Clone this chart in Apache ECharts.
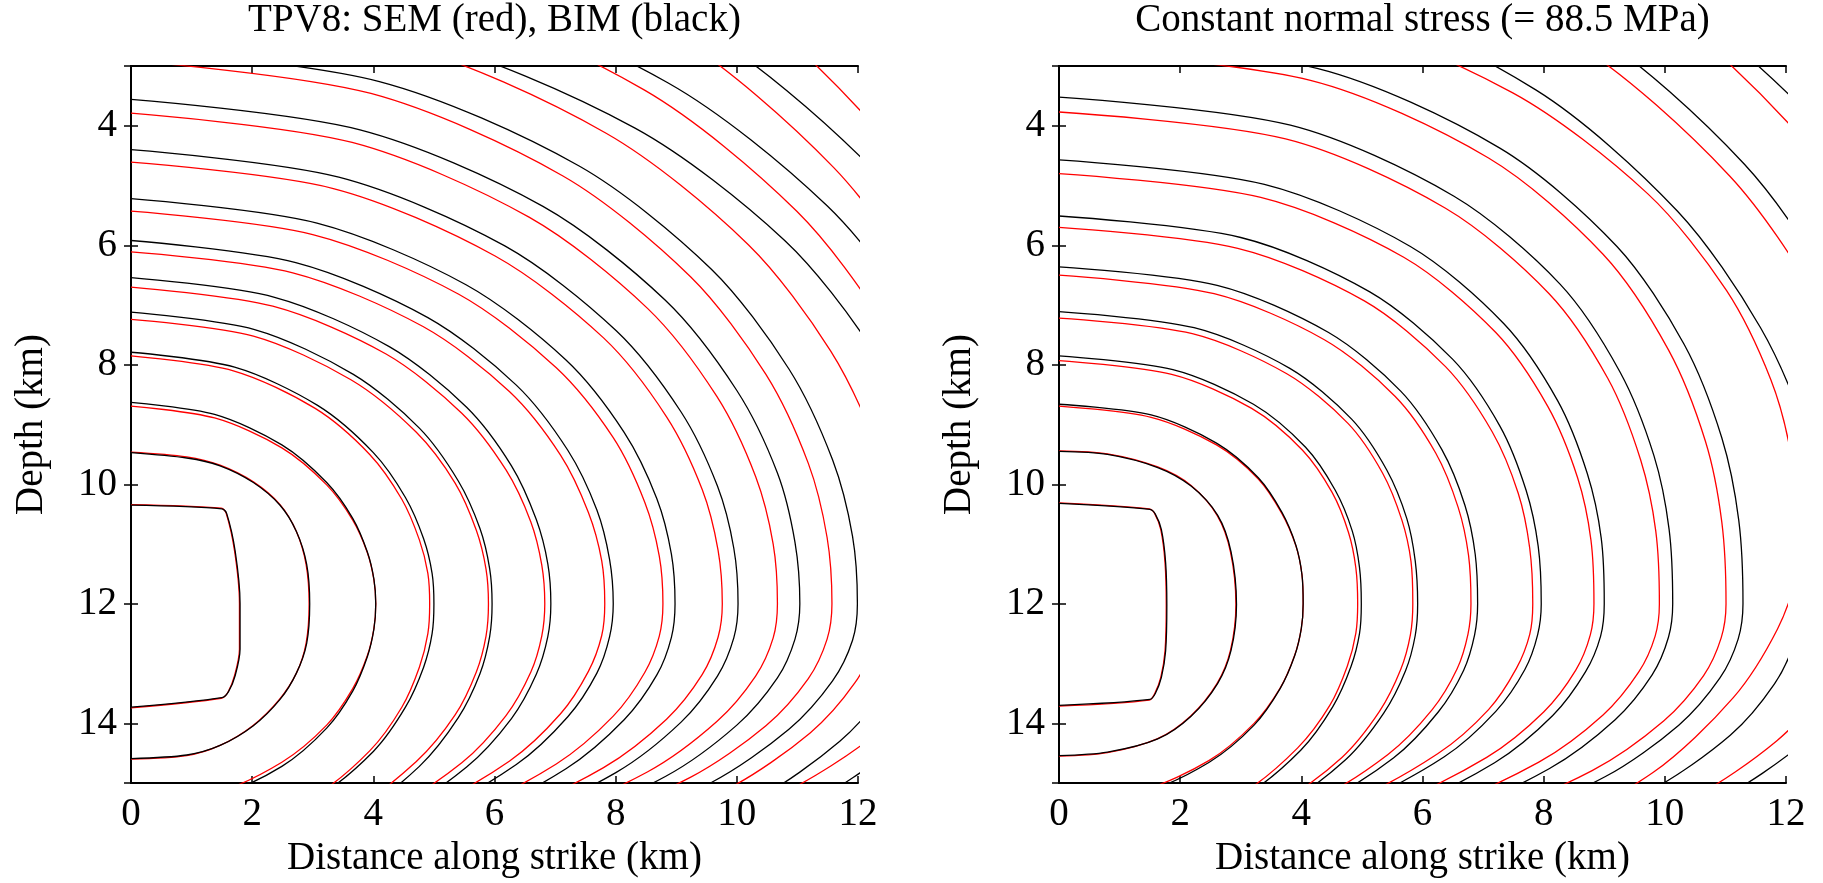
<!DOCTYPE html>
<html>
<head>
<meta charset="utf-8">
<script src="https://cdn.jsdelivr.net/npm/echarts@6/dist/echarts.min.js"></script>
<style>
html,body{margin:0;padding:0;background:#fff;}
#main{width:1823px;height:883px;}
</style>
</head>
<body>
<div id="main"></div>
<script>
// ---- Tick labels ----
const xTickLabels = [0, 2, 4, 6, 8, 10, 12];
const yTickLabels = [4, 6, 8, 10, 12, 14];
const titles = ['TPV8: SEM (red), BIM (black)', 'Constant normal stress (= 88.5 MPa)'];

// ---- Rupture-time contours, points are [distance along strike (km), depth (km)] ----
// Left panel, SEM (red)
const leftSEM = [
 [[0,10.34],[1.49,10.4],[1.57,10.48],[1.71,11.12],[1.79,11.99],[1.79,12.76],[1.71,13.2],[1.6,13.48],[1.49,13.58],[0,13.74]],
 [[0,9.46],[0.92,9.54],[1.47,9.68],[2.02,9.96],[2.46,10.34],[2.73,10.79],[2.89,11.34],[2.94,12],[2.89,12.66],[2.73,13.16],[2.45,13.6],[2.01,14.04],[1.47,14.37],[0.92,14.54],[0,14.6]],
 [[0,8.69],[1.38,8.89],[2.49,9.39],[3.23,10.01],[3.66,10.6],[3.9,11.14],[4.01,11.6],[4.04,12],[4.01,12.41],[3.9,12.87],[3.66,13.42],[3.23,14.03],[2.49,14.65],[1.38,15.17],[0,15.37]],
 [[0,7.85],[1.69,8.1],[3.04,8.73],[3.94,9.5],[4.47,10.25],[4.76,10.93],[4.9,11.49],[4.93,12],[4.9,12.5],[4.76,13.06],[4.47,13.73],[3.94,14.46],[3.04,15.21],[1.69,15.83],[0,16.08]],
 [[0,7.24],[2.02,7.52],[3.63,8.25],[4.71,9.13],[5.35,9.98],[5.7,10.77],[5.86,11.42],[5.9,12],[5.86,12.54],[5.7,13.14],[5.35,13.86],[4.71,14.64],[3.63,15.46],[2.02,16.13]],
 [[0,6.7],[2.34,7.02],[4.21,7.82],[5.46,8.81],[6.19,9.76],[6.6,10.63],[6.78,11.35],[6.83,12],[6.78,12.54],[6.6,13.14],[6.19,13.87],[5.46,14.66],[4.21,15.48],[2.34,16.15]],
 [[0,6.11],[2.67,6.46],[4.82,7.36],[6.25,8.45],[7.09,9.51],[7.55,10.47],[7.77,11.28],[7.82,12],[7.77,12.53],[7.55,13.13],[7.09,13.84],[6.25,14.63],[4.82,15.44],[2.67,16.1]],
 [[0,5.43],[3.0,5.82],[5.41,6.82],[7.02,8.05],[7.96,9.22],[8.48,10.3],[8.72,11.2],[8.78,12],[8.72,12.54],[8.48,13.15],[7.96,13.88],[7.02,14.68],[5.41,15.51],[3.0,16.18]],
 [[0,4.61],[3.34,5.05],[6.01,6.18],[7.8,7.55],[8.84,8.87],[9.43,10.09],[9.69,11.1],[9.76,12],[9.69,12.56],[9.43,13.18],[8.84,13.93],[7.8,14.74],[6.01,15.59],[3.34,16.28]],
 [[0,3.79],[3.65,4.28],[6.57,5.53],[8.53,7.06],[9.67,8.53],[10.31,9.87],[10.6,11.0],[10.67,12],[10.6,12.57],[10.31,13.21],[9.67,13.97],[8.53,14.81],[6.57,15.67],[3.65,16.38]],
 [[0,2.91],[3.96,3.46],[7.13,4.84],[9.24,6.53],[10.48,8.16],[11.18,9.65],[11.49,10.89],[11.57,12],[11.49,12.59],[11.18,13.25],[10.48,14.04],[9.24,14.9],[7.13,15.79],[3.96,16.53]],
 [[0,2.01],[4.36,2.61],[7.85,4.13],[10.19,5.99],[11.55,7.77],[12.32,9.41],[12.66,10.78],[12.75,12],[12.37,12],[12.28,12.62],[11.95,13.32],[11.21,14.16],[9.88,15.08],[7.62,16.03]],
 [[0,1.08],[4.7,1.74],[8.47,3.4],[10.99,5.43],[12.46,7.38],[13.28,9.17],[13.65,10.67],[13.75,12],[13.53,12],[13.44,12.64],[13.07,13.35],[12.26,14.21],[10.81,15.14],[8.33,16.11]],
 [[0,-0.12],[4.97,0.61],[8.94,2.45],[11.6,4.7],[13.16,6.87],[14.03,8.86]],
 [[0,-1.5],[5.2,-0.69],[9.37,1.36],[12.15,3.87],[13.78,6.29]]
];
// Left panel, BIM (black)
const leftBIM = [
 [[0,10.35],[1.5,10.41],[1.58,10.49],[1.72,11.12],[1.8,11.99],[1.8,12.76],[1.72,13.2],[1.61,13.47],[1.5,13.57],[0,13.73]],
 [[0,9.47],[0.92,9.56],[1.47,9.69],[2.02,9.97],[2.46,10.35],[2.73,10.79],[2.9,11.34],[2.95,12],[2.9,12.66],[2.73,13.16],[2.46,13.6],[2.02,14.04],[1.47,14.37],[0.92,14.53],[0,14.59]],
 [[0,8.63],[1.38,8.83],[2.49,9.34],[3.23,9.97],[3.66,10.57],[3.9,11.13],[4.01,11.59],[4.04,12],[4.01,12.42],[3.9,12.89],[3.66,13.46],[3.23,14.08],[2.49,14.72],[1.38,15.24],[0,15.45]],
 [[0,7.79],[1.71,8.04],[3.08,8.68],[4.0,9.47],[4.53,10.22],[4.83,10.91],[4.97,11.49],[5,12],[4.97,12.5],[4.83,13.06],[4.53,13.73],[4.0,14.47],[3.08,15.23],[1.71,15.85],[0,16.1]],
 [[0,7.12],[2.04,7.41],[3.67,8.16],[4.76,9.06],[5.4,9.94],[5.76,10.74],[5.92,11.41],[5.96,12],[5.92,12.55],[5.76,13.17],[5.4,13.91],[4.76,14.72],[3.67,15.56],[2.04,16.25]],
 [[0,6.54],[2.37,6.87],[4.27,7.7],[5.54,8.71],[6.28,9.69],[6.69,10.59],[6.88,11.33],[6.93,12],[6.88,12.55],[6.69,13.18],[6.28,13.92],[5.54,14.73],[4.27,15.58],[2.37,16.27]],
 [[0,5.92],[2.72,6.29],[4.9,7.21],[6.36,8.34],[7.21,9.43],[7.69,10.43],[7.9,11.26],[7.96,12],[7.9,12.55],[7.69,13.16],[7.21,13.89],[6.36,14.69],[4.9,15.52],[2.72,16.2]],
 [[0,5.22],[3.07,5.63],[5.53,6.66],[7.18,7.92],[8.14,9.13],[8.68,10.24],[8.92,11.17],[8.98,12],[8.92,12.56],[8.68,13.19],[8.14,13.94],[7.18,14.76],[5.53,15.62],[3.07,16.32]],
 [[0,4.4],[3.43,4.86],[6.17,6.01],[8.01,7.43],[9.08,8.79],[9.68,10.03],[9.95,11.07],[10.02,12],[9.95,12.57],[9.68,13.21],[9.08,13.98],[8.01,14.82],[6.17,15.69],[3.43,16.4]],
 [[0,3.56],[3.78,4.07],[6.8,5.35],[8.82,6.92],[10.0,8.43],[10.67,9.81],[10.96,10.97],[11.04,12],[10.96,12.59],[10.67,13.24],[10.0,14.03],[8.82,14.89],[6.8,15.78],[3.78,16.51]],
 [[0,2.7],[4.1,3.26],[7.39,4.67],[9.58,6.4],[10.86,8.07],[11.58,9.59],[11.91,10.87],[11.99,12],[11.91,12.61],[11.58,13.29],[10.86,14.1],[9.58,14.99],[7.39,15.92],[4.1,16.67]],
 [[0,1.9],[4.62,2.51],[8.32,4.04],[10.79,5.92],[12.23,7.73],[13.04,9.38],[13.41,10.77],[13.5,12],[12.91,12],[12.82,12.66],[12.47,13.41],[11.7,14.3],[10.32,15.27],[7.95,16.28]],
 [[0,0.93],[4.92,1.59],[8.86,3.28],[11.49,5.34],[13.03,7.32],[13.89,9.13],[14.28,10.65],[14.38,12],[13.95,12],[13.85,12.68],[13.48,13.45],[12.64,14.37],[11.15,15.37],[8.59,16.41]],
 [[0,-0.25],[5.2,0.49],[9.37,2.35],[12.15,4.63],[13.78,6.82],[14.69,8.83]]
];
// Right panel, SEM (red)
const rightSEM = [
 [[0,10.31],[1.49,10.41],[1.58,10.49],[1.68,10.76],[1.75,11.31],[1.77,12.02],[1.75,12.79],[1.68,13.23],[1.58,13.5],[1.49,13.61],[0,13.71]],
 [[0,9.44],[0.8,9.49],[1.63,9.71],[2.18,10.02],[2.61,10.52],[2.83,11.13],[2.92,12.01],[2.83,12.78],[2.61,13.33],[2.17,13.88],[1.62,14.26],[0.8,14.49],[0,14.55]],
 [[0,8.69],[1.52,8.88],[2.6,9.34],[3.29,9.91],[3.68,10.49],[3.91,11.03],[4.01,11.51],[4.03,12],[4.0,12.41],[3.89,12.86],[3.65,13.41],[3.22,14.0],[2.48,14.62],[1.38,15.12],[0,15.32]],
 [[0,7.93],[1.86,8.16],[3.18,8.73],[4.02,9.43],[4.51,10.14],[4.78,10.81],[4.9,11.4],[4.93,12],[4.9,12.49],[4.76,13.04],[4.47,13.7],[3.94,14.41],[3.04,15.16],[1.69,15.77],[0,16.01]],
 [[0,7.22],[2.2,7.48],[3.76,8.15],[4.77,8.98],[5.34,9.81],[5.66,10.6],[5.81,11.29],[5.84,12],[5.8,12.52],[5.64,13.1],[5.29,13.8],[4.67,14.57],[3.6,15.36],[2.0,16.01]],
 [[0,6.5],[2.56,6.81],[4.38,7.58],[5.55,8.53],[6.22,9.48],[6.59,10.39],[6.76,11.19],[6.8,12],[6.75,12.51],[6.57,13.09],[6.16,13.77],[5.43,14.52],[4.19,15.3],[2.33,15.94]],
 [[0,5.7],[2.95,6.05],[5.04,6.93],[6.38,8.03],[7.15,9.12],[7.58,10.15],[7.77,11.07],[7.82,12],[7.77,12.51],[7.55,13.08],[7.09,13.77],[6.25,14.51],[4.82,15.29],[2.67,15.93]],
 [[0,4.8],[3.33,5.2],[5.69,6.2],[7.21,7.46],[8.07,8.7],[8.56,9.89],[8.78,10.93],[8.83,12],[8.77,12.52],[8.53,13.11],[8.0,13.81],[7.06,14.57],[5.44,15.37],[3.02,16.02]],
 [[0,3.77],[3.74,4.22],[6.38,5.38],[8.09,6.81],[9.06,8.23],[9.6,9.59],[9.85,10.78],[9.91,12],[9.84,12.54],[9.57,13.14],[8.98,13.86],[7.92,14.65],[6.11,15.47],[3.39,16.14]],
 [[0,2.73],[4.15,3.24],[7.09,4.54],[8.98,6.15],[10.06,7.75],[10.67,9.28],[10.94,10.63],[11.01,12],[10.93,12.57],[10.64,13.2],[9.98,13.96],[8.8,14.79],[6.78,15.65],[3.77,16.36]],
 [[0,1.53],[4.16,2.07],[7.49,3.45],[9.72,5.14],[11.02,6.76],[11.75,8.25],[12.08,9.49],[12.16,10.6],[12.28,10.6],[12.19,11.46],[11.86,12.42],[11.13,13.57],[9.81,14.82],[7.56,16.12]],
 [[0,0.1],[4.74,0.81],[8.53,2.62],[11.07,4.84],[12.55,6.97],[13.38,8.92],[13.75,10.55],[13.85,12],[13.08,12],[12.99,12.66],[12.64,13.4],[11.85,14.29],[10.45,15.25],[8.06,16.26]],
 [[0,-1.29],[5.17,-0.49],[9.31,1.53],[12.08,4.0],[13.7,6.38]]
];
// Right panel, BIM (black)
const rightBIM = [
 [[0,10.32],[1.5,10.42],[1.59,10.5],[1.69,10.76],[1.76,11.31],[1.78,12.02],[1.76,12.79],[1.69,13.23],[1.59,13.5],[1.5,13.6],[0,13.7]],
 [[0,9.45],[0.8,9.5],[1.63,9.72],[2.18,10.03],[2.62,10.52],[2.84,11.13],[2.93,12.01],[2.84,12.78],[2.62,13.33],[2.18,13.88],[1.63,14.26],[0.8,14.48],[0,14.54]],
 [[0,8.66],[1.52,8.84],[2.6,9.31],[3.29,9.89],[3.68,10.47],[3.91,11.02],[4.01,11.51],[4.03,12],[4.0,12.41],[3.89,12.87],[3.65,13.42],[3.22,14.03],[2.48,14.65],[1.38,15.16],[0,15.36]],
 [[0,7.85],[1.88,8.08],[3.21,8.66],[4.07,9.38],[4.56,10.1],[4.84,10.78],[4.96,11.39],[4.99,12],[4.96,12.5],[4.82,13.05],[4.52,13.72],[3.99,14.45],[3.07,15.21],[1.71,15.82],[0,16.07]],
 [[0,7.11],[2.23,7.38],[3.81,8.06],[4.83,8.91],[5.41,9.76],[5.74,10.57],[5.88,11.28],[5.92,12],[5.88,12.53],[5.72,13.12],[5.36,13.83],[4.73,14.61],[3.65,15.41],[2.03,16.07]],
 [[0,6.36],[2.61,6.67],[4.45,7.46],[5.64,8.44],[6.32,9.42],[6.7,10.35],[6.87,11.17],[6.91,12],[6.86,12.52],[6.68,13.11],[6.26,13.81],[5.52,14.58],[4.26,15.37],[2.36,16.02]],
 [[0,5.51],[3.0,5.87],[5.13,6.78],[6.5,7.91],[7.28,9.03],[7.71,10.1],[7.91,11.04],[7.96,12],[7.9,12.52],[7.69,13.1],[7.21,13.8],[6.36,14.56],[4.9,15.34],[2.72,15.99]],
 [[0,4.57],[3.39,4.98],[5.8,6.02],[7.34,7.31],[8.23,8.6],[8.72,9.82],[8.95,10.9],[9,12],[8.94,12.54],[8.69,13.14],[8.15,13.87],[7.19,14.66],[5.54,15.48],[3.08,16.15]],
 [[0,3.52],[3.82,3.99],[6.52,5.18],[8.27,6.65],[9.26,8.12],[9.82,9.52],[10.07,10.75],[10.13,12],[10.06,12.56],[9.79,13.19],[9.18,13.94],[8.09,14.76],[6.24,15.61],[3.46,16.3]],
 [[0,2.52],[4.26,3.04],[7.27,4.37],[9.21,6.02],[10.32,7.66],[10.94,9.22],[11.22,10.6],[11.29,12],[11.21,12.59],[10.91,13.24],[10.23,14.03],[9.02,14.89],[6.96,15.79],[3.86,16.52]],
 [[0,1.08],[4.37,1.74],[7.87,3.4],[10.21,5.43],[11.58,7.38],[12.35,9.17],[12.69,10.67],[12.78,12],[12.23,12],[12.14,12.63],[11.81,13.34],[11.08,14.2],[9.77,15.12],[7.53,16.09]],
 [[0,-0.22],[4.84,0.51],[8.72,2.37],[11.31,4.64],[12.83,6.83],[13.68,8.84],[14.06,10.51],[14.16,12],[13.59,12],[13.5,12.67],[13.13,13.41],[12.31,14.31],[10.86,15.29],[8.37,16.3]],
 [[0,-1.26],[5.38,-0.46],[9.7,1.55],[12.58,4.02],[14.26,6.39]]
];

const FONT = '"Liberation Serif", "DejaVu Serif", serif';
const FS = 39;
const GRIDS = [
  {left: 131, top: 66, width: 727, height: 727},
  {left: 1059, top: 66, width: 727, height: 727}
];

const chart = echarts.init(document.getElementById('main'), null, {renderer: 'canvas'});

const lineAxis = {show: true, lineStyle: {color: '#000', width: 2}};
const tick = {show: true, inside: true, length: 7, lineStyle: {color: '#000', width: 1.5}};

const xAxes = [], yAxes = [];
GRIDS.forEach((g, gi) => {
  xAxes.push({
    type: 'value', gridIndex: gi, position: 'bottom', min: 0, max: 12, interval: 2,
    axisLine: lineAxis, axisTick: tick, splitLine: {show: false},
    axisLabel: {show: true, color: '#000', fontFamily: FONT, fontSize: FS, margin: 12,
      formatter: v => xTickLabels.includes(v) ? String(v) : ''},
    name: 'Distance along strike (km)', nameLocation: 'middle', nameGap: 51,
    nameTextStyle: {color: '#000', fontFamily: FONT, fontSize: FS}
  });
  xAxes.push({
    type: 'value', gridIndex: gi, position: 'top', min: 0, max: 12, interval: 2,
    axisLine: lineAxis, axisTick: tick, splitLine: {show: false}, axisLabel: {show: false}
  });
  yAxes.push({
    type: 'value', gridIndex: gi, position: 'left', min: 3, max: 15, splitNumber: 6, inverse: true,
    axisLine: lineAxis, axisTick: tick, splitLine: {show: false},
    axisLabel: {show: true, color: '#000', fontFamily: FONT, fontSize: FS, margin: 14,
      formatter: v => yTickLabels.includes(v) ? String(v) : ''},
    name: 'Depth (km)', nameLocation: 'middle', nameGap: 80,
    nameTextStyle: {color: '#000', fontFamily: FONT, fontSize: FS}
  });
  yAxes.push({
    type: 'value', gridIndex: gi, position: 'right', min: 3, max: 15, splitNumber: 6, inverse: true,
    axisLine: lineAxis, axisTick: tick, splitLine: {show: false}, axisLabel: {show: false}
  });
});

function contourSeries(list, color, axisIdx, z) {
  return list.map(pts => ({
    type: 'line', xAxisIndex: axisIdx, yAxisIndex: axisIdx, data: pts,
    showSymbol: false, symbol: 'none', smooth: 0.3, clip: true, silent: true,
    lineStyle: {color: color, width: 1.3}, z: z, animation: false
  }));
}

const series = [].concat(
  contourSeries(leftSEM, '#ff0000', 0, 2),
  contourSeries(leftBIM, '#000000', 0, 3),
  contourSeries(rightSEM, '#ff0000', 2, 2),
  contourSeries(rightBIM, '#000000', 2, 3)
);

chart.setOption({
  animation: false,
  backgroundColor: '#fff',
  title: titles.map((t, i) => ({
    text: t, left: GRIDS[i].left + GRIDS[i].width / 2, top: 1, padding: 0, textAlign: 'center',
    textStyle: {color: '#000', fontFamily: FONT, fontSize: FS, fontWeight: 'normal'}
  })),
  grid: GRIDS.map(g => Object.assign({containLabel: false}, g)),
  xAxis: xAxes,
  yAxis: yAxes,
  series: series
});
</script>
</body>
</html>
